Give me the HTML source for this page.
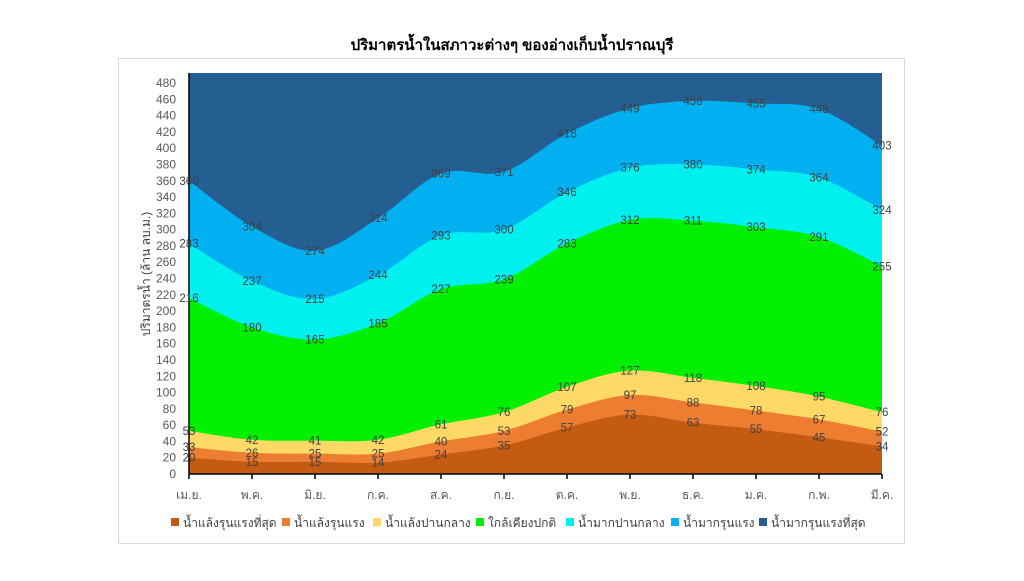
<!DOCTYPE html>
<html><head><meta charset="utf-8"><style>
body{margin:0;width:1024px;height:576px;background:#fff;overflow:hidden}
svg text{font-family:"Liberation Sans","Noto Sans CJK SC",sans-serif}
</style></head><body>
<svg id="s" width="1024" height="576" xmlns="http://www.w3.org/2000/svg">
<rect x="118.5" y="58.5" width="786" height="485" fill="#fff" stroke="#d9d9d9"/>
<text x="512" y="50" text-anchor="middle" font-size="15" font-weight="bold" fill="#000">ปริมาตรน้ำในสภาวะต่างๆ ของอ่างเก็บน้ำปราณบุรี</text>
<g id="areas"></g><g id="ax"></g><g id="lbl"></g>
<text transform="translate(150,274) rotate(-90)" text-anchor="middle" font-size="12" fill="#404040">ปริมาตรน้ำ (ล้าน ลบ.ม.)</text>
<g id="leg" font-size="12" fill="#404040"></g>
</svg>
<script>
const D=[[20,15,15,14,24,35,57,73,63,55,45,34],[33,26,25,25,40,53,79,97,88,78,67,52],[53,42,41,42,61,76,107,127,118,108,95,76],[216,180,165,185,227,239,283,312,311,303,291,255],[283,237,215,244,293,300,346,376,380,374,364,324],[360,304,274,314,369,371,418,449,458,455,448,403]];
const C=["#c55a11","#ed7d31","#ffd966","#00f000","#00f0f0","#00b0f0","#255e91"];
const N=["น้ำแล้งรุนแรงที่สุด","น้ำแล้งรุนแรง","น้ำแล้งปานกลาง","ใกล้เคียงปกติ","น้ำมากปานกลาง","น้ำมากรุนแรง","น้ำมากรุนแรงที่สุด"];
const M=["เม.ย.","พ.ค.","มิ.ย.","ก.ค.","ส.ค.","ก.ย.","ต.ค.","พ.ย.","ธ.ค.","ม.ค.","ก.พ.","มี.ค."];
const X0=189,DX=63,Y0=474,K=(474-83)/480,TOP=73;
const X=i=>X0+i*DX,Y=v=>Y0-v*K;
function curve(a,rev){let p=a.map((v,i)=>[X(i),Y(v)]);if(rev)p=p.reverse();let d="";
for(let i=0;i<p.length-1;i++){const p0=p[Math.max(i-1,0)],p1=p[i],p2=p[i+1],p3=p[Math.min(i+2,p.length-1)],t=6;
d+=`C${p1[0]+(p2[0]-p0[0])/t},${p1[1]+(p2[1]-p0[1])/t} ${p2[0]-(p3[0]-p1[0])/t},${p2[1]-(p3[1]-p1[1])/t} ${p2[0]},${p2[1]}`;}return [p[0],d];}
let h="";const R=X(11);
h+=`<rect x="${X0}" y="${TOP}" width="${R-X0}" height="${Y0-TOP}" fill="${C[6]}"/>`;
for(let s=5;s>=0;s--){const [p,d]=curve(D[s]);h+=`<path d="M${X0},${Y0}L${p[0]},${p[1]}${d}L${R},${Y0}Z" fill="${C[s]}"/>`;}
document.getElementById("areas").innerHTML=h;
let a=`<line x1="${X0}" y1="${TOP}" x2="${X0}" y2="${Y0}" stroke="#000" stroke-width="1.5"/><line x1="${X0}" y1="${Y0}" x2="${R}" y2="${Y0}" stroke="#000" stroke-width="1.5"/>`;
for(let v=0;v<=480;v+=20)a+=`<text x="176" y="${Y(v)+4}" text-anchor="end" font-size="12" fill="#595959">${v}</text>`;
for(let i=0;i<12;i++)a+=`<line x1="${X(i)}" y1="${Y0}" x2="${X(i)}" y2="${Y0+5}" stroke="#000" stroke-width="1.5"/><text x="${X(i)}" y="499" text-anchor="middle" font-size="12" fill="#595959">${M[i]}</text>`;
document.getElementById("ax").innerHTML=a;
let l="";D.forEach(r=>r.forEach((v,i)=>{l+=`<text x="${X(i)}" y="${Y(v)+4}" text-anchor="middle" font-size="11.5" fill="#404040">${v}</text>`}));
document.getElementById("lbl").innerHTML=l;
const LX=[171,282,373,476,566,671,759];let g="";
N.forEach((n,i)=>{g+=`<rect x="${LX[i]}" y="518" width="8" height="8" fill="${C[i]}"/><text x="${LX[i]+12}" y="527">${n}</text>`});
document.getElementById("leg").innerHTML=g;
</script>
</body></html>
